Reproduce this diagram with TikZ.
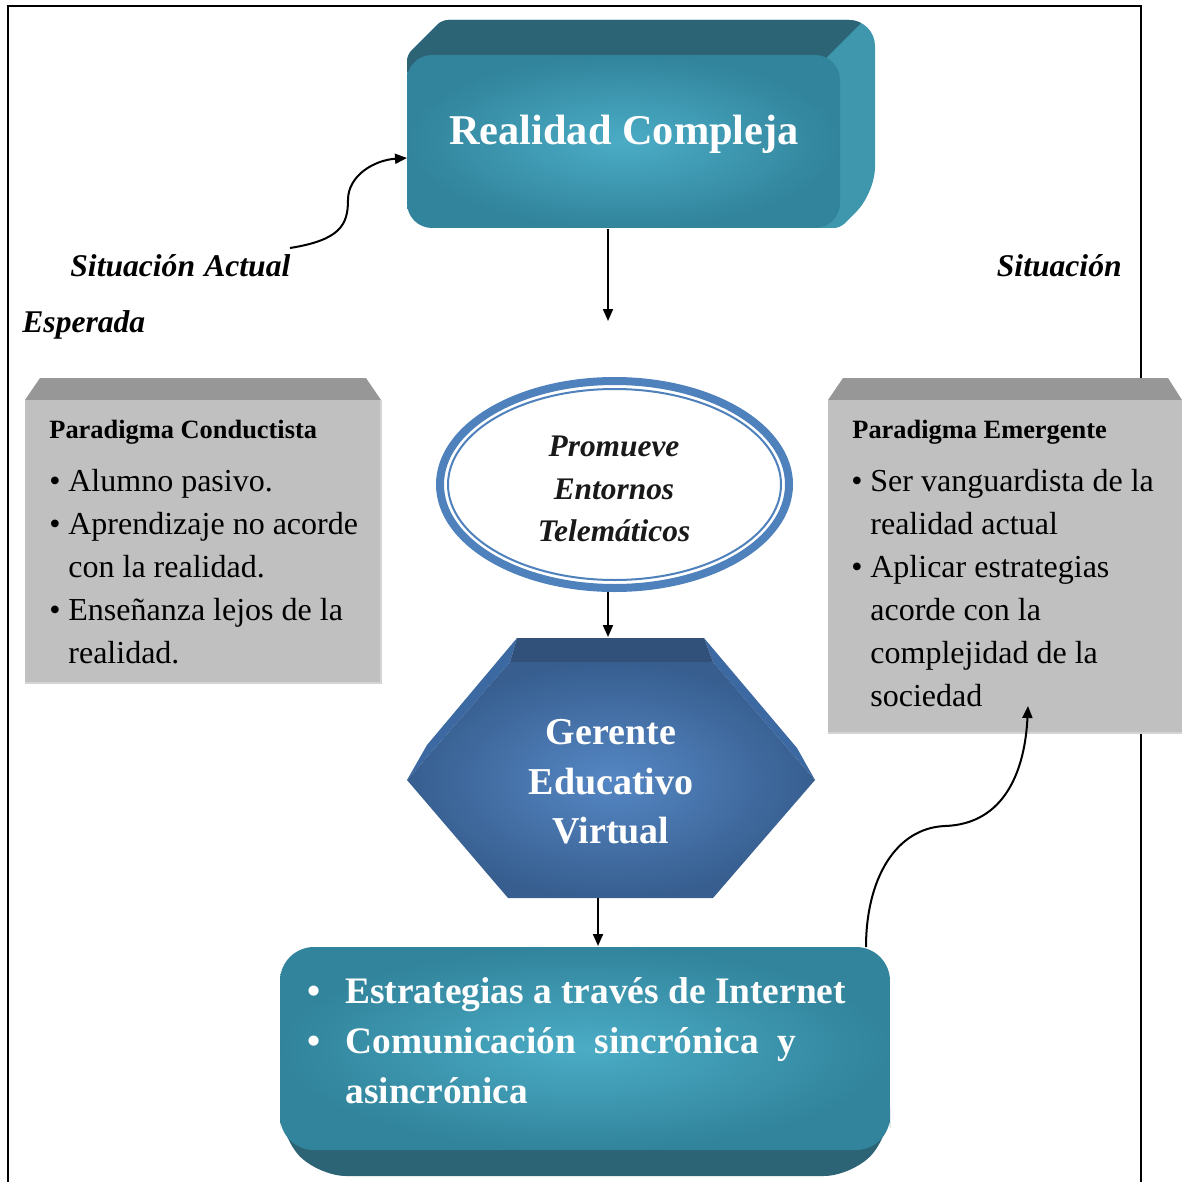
\documentclass[tikz,border=0pt]{standalone}
\usepackage{fontspec}
\setmainfont{Liberation Serif}
\usetikzlibrary{arrows.meta}
\definecolor{tealL}{HTML}{4BACC6}
\definecolor{tealD}{HTML}{31849B}
\definecolor{tealTop}{HTML}{2D6475}
\definecolor{tealSide}{HTML}{3F97AD}
\definecolor{blueL}{HTML}{5587C4}
\definecolor{blueD}{HTML}{375E8F}
\definecolor{blueTop}{HTML}{31517B}
\definecolor{blueSide}{HTML}{3C69A2}
\definecolor{ringblue}{HTML}{4F81BD}
\definecolor{grayFront}{HTML}{C0C0C0}
\definecolor{grayTop}{HTML}{979797}
\definecolor{grayEdge}{HTML}{D4D4D4}
\tikzset{
  conn/.style={line width=1pt,-{Triangle[length=6pt,width=5pt]}},
  lbl/.style={inner sep=0pt,font=\fontsize{15.8}{19}\selectfont\bfseries\itshape},
  elltxt/.style={inner sep=0pt,anchor=base,text=black!90,font=\fontsize{15.7}{19}\selectfont\bfseries\itshape},
  bigw/.style={inner sep=0pt,text=white,font=\fontsize{19}{23}\selectfont\bfseries},
  bbw/.style={inner sep=0pt,anchor=base west,text=white,font=\fontsize{18.7}{23}\selectfont\bfseries},
  gtitle/.style={inner sep=0pt,anchor=base west,font=\fontsize{13.2}{16}\selectfont\bfseries},
  gitem/.style={inner sep=0pt,anchor=base west,font=\fontsize{16}{19}\selectfont},
}
\begin{document}
\begin{tikzpicture}[x=0.5pt,y=-0.5pt]
\useasboundingbox (0,0) rectangle (1182,1182);
% frame
\draw[line width=1pt] (8,1182) -- (8,6) -- (1141,6) -- (1141,1182);

% ---------- top box: Realidad Compleja ----------
\def\rcsil{(407,203) [rounded corners=3pt] -- (407,55) -- (442,20) [rounded corners=13pt] -- (875,20) -- (875,193) [rounded corners=3pt] -- (840,228) [sharp corners] -- (432,228) -- cycle}
\fill[tealSide] \rcsil;
\begin{scope}
\clip \rcsil;
\fill[tealTop] (390,72) -- (442,20) -- (864,20) -- (822,62) -- (822,72) -- cycle;
\end{scope}
\shade[inner color=tealL, outer color=tealD, rounded corners=12.5pt] (407,55) rectangle (840,228);
\node[bigw, anchor=base, font=\fontsize{21.2}{25}\selectfont\bfseries] (rc) at (624,145) {Realidad Compleja};
\coordinate (rcW) at (407,158);
\coordinate (rcS) at (608,229);
\coordinate (rcEnd) at (608,321);

% ---------- labels ----------
\node[lbl, anchor=base west] (sitA) at (70,276) {Situación\hspace{4.6pt}Actual};
\node[lbl, anchor=base west] (esp) at (22,332) {Esperada};
\node[lbl, anchor=base east] (sitB) at (1122,276) {Situación};
\coordinate (sitAE) at (290,248);

% ---------- gray boxes ----------
\fill[grayTop] (25,400) -- (40,378) -- (366,378) -- (381,400) -- cycle;
\fill[grayFront] (25,400) rectangle (381,683);
\draw[grayEdge, line width=1pt] (381,400) -- (381,683) -- (25,683);
\node[gtitle] (pc) at (49,438) {Paradigma Conductista};
\node[gitem] (pc1) at (49,491) {\makebox[9.5pt][l]{\textbullet}Alumno pasivo.};
\node[gitem] (pc2) at (49,534) {\makebox[9.5pt][l]{\textbullet}Aprendizaje no acorde};
\node[gitem] (pc3) at (68,577) {con la realidad.};
\node[gitem] (pc4) at (49,620) {\makebox[9.5pt][l]{\textbullet}Enseñanza lejos de la};
\node[gitem] (pc5) at (68,663) {realidad.};

\fill[grayTop] (828,400) -- (843,378) -- (1168,378) -- (1182,400) -- cycle;
\fill[grayFront] (828,400) rectangle (1182,733);
\draw[grayEdge, line width=1pt] (828,733) -- (1182,733);
\node[gtitle] (pe) at (852,438) {Paradigma Emergente};
\node[gitem] (pe1) at (851,491) {\makebox[9.5pt][l]{\textbullet}Ser vanguardista de la};
\node[gitem] (pe2) at (870,534) {realidad actual};
\node[gitem] (pe3) at (851,577) {\makebox[9.5pt][l]{\textbullet}Aplicar estrategias};
\node[gitem] (pe4) at (870,620) {acorde con la};
\node[gitem] (pe5) at (870,663) {complejidad de la};
\node[gitem] (pe6) at (870,706) {sociedad};
\coordinate (peS) at (1028,706);

% ---------- ellipse ----------
\draw[ringblue, line width=4pt, fill=white] (614.5,484.5) ellipse [x radius=87.25pt, y radius=51.75pt];
\draw[ringblue, line width=1pt] (614.5,484.5) ellipse [x radius=83.25pt, y radius=47.75pt];
\node[elltxt] (el1) at (614,456) {Promueve};
\node[elltxt] (el2) at (614,499) {Entornos};
\node[elltxt] (el3) at (614,541) {Telemáticos};
\coordinate (elS) at (608,592);

% ---------- hexagon ----------
\fill[blueSide] (517,638) -- (427,745) -- (407,780) -- (510,662) -- cycle;
\fill[blueSide] (704,638) -- (797,748) -- (815,780) -- (713,662) -- cycle;
\fill[blueTop] (517,638) -- (704,638) -- (713,662) -- (510,662) -- cycle;
\shade[inner color=blueL, outer color=blueD] (510,662) -- (713,662) -- (815,780) -- (713,898) -- (508,898) -- (407,780) -- cycle;
\node[bigw, anchor=base] (ge1) at (611,744) {Gerente};
\node[bigw, anchor=base] (ge2) at (611,794) {Educativo};
\node[bigw, anchor=base] (ge3) at (611,843) {Virtual};
\coordinate (hexN) at (608,637);
\coordinate (hexS) at (598,898);

% ---------- bottom box ----------
\fill[tealTop, rounded corners=14pt] (280,1100) -- (280,1135) -- (318,1176) -- (852,1176) -- (890,1135) -- (890,1100) -- cycle;
\shade[inner color=tealL, outer color=tealD, rounded corners=17pt] (280,947) rectangle (890,1150);
\node[bbw] (bb1b) at (307,1003) {\textbullet};
\node[bbw] (bb1) at (345,1003) {Estrategias a través de Internet};
\node[bbw] (bb2b) at (307,1053) {\textbullet};
\node[bbw] (bb2) at (345,1053) {Comunicación\ \ sincrónica\ \ y};
\node[bbw] (bb3) at (345,1103) {asincrónica};
\coordinate (bbN) at (598,946);
\coordinate (bbNE) at (866,947);

% ---------- connectors ----------
\draw[conn] (sitAE) .. controls (340,240) and (348,225) .. (348,200) .. controls (348,175) and (375,160) .. (rcW);
\draw[conn] (rcS) -- (rcEnd);
\draw[conn] (elS) -- (hexN);
\draw[conn] (hexS) -- (bbN);
\draw[conn] (bbNE) .. controls (866,880) and (895,828) .. (945,826) .. controls (1005,824) and (1025,770) .. (peS);
\end{tikzpicture}
\end{document}
